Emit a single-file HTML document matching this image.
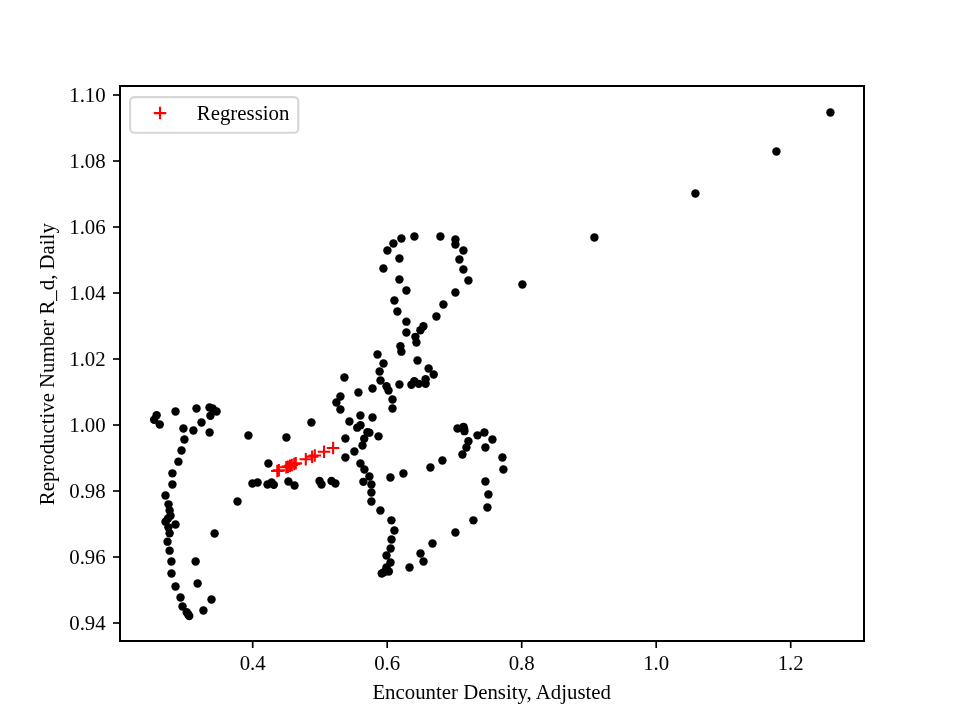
<!DOCTYPE html>
<html lang="en"><head><meta charset="utf-8"><title>Regression plot</title>
<style>
html,body{margin:0;padding:0;background:#fff;}
body{width:960px;height:720px;overflow:hidden;}
svg{display:block;}
text{font-family:"Liberation Serif","Times New Roman",Times,serif;font-size:20.83px;fill:#000;}
</style></head><body>
<svg width="960" height="720" viewBox="0 0 960 720">
<rect width="960" height="720" fill="#fff"/>

<g fill="#000">
<circle cx="156.62" cy="415.15" r="4.22"/>
<circle cx="154.12" cy="419.75" r="4.22"/>
<circle cx="159.72" cy="424.55" r="4.22"/>
<circle cx="175.52" cy="411.45" r="4.22"/>
<circle cx="196.52" cy="408.45" r="4.22"/>
<circle cx="209.52" cy="407.45" r="4.22"/>
<circle cx="212.62" cy="408.45" r="4.22"/>
<circle cx="216.62" cy="411.55" r="4.22"/>
<circle cx="210.42" cy="415.85" r="4.22"/>
<circle cx="201.52" cy="422.45" r="4.22"/>
<circle cx="183.42" cy="428.55" r="4.22"/>
<circle cx="193.42" cy="430.55" r="4.22"/>
<circle cx="209.62" cy="432.45" r="4.22"/>
<circle cx="184.42" cy="439.45" r="4.22"/>
<circle cx="181.52" cy="450.55" r="4.22"/>
<circle cx="178.42" cy="461.65" r="4.22"/>
<circle cx="172.42" cy="473.35" r="4.22"/>
<circle cx="172.42" cy="484.55" r="4.22"/>
<circle cx="165.52" cy="495.45" r="4.22"/>
<circle cx="168.52" cy="504.35" r="4.22"/>
<circle cx="169.62" cy="510.45" r="4.22"/>
<circle cx="170.52" cy="515.65" r="4.22"/>
<circle cx="168.02" cy="518.45" r="4.22"/>
<circle cx="165.52" cy="521.65" r="4.22"/>
<circle cx="175.52" cy="524.45" r="4.22"/>
<circle cx="168.42" cy="527.35" r="4.22"/>
<circle cx="169.62" cy="533.35" r="4.22"/>
<circle cx="167.52" cy="541.65" r="4.22"/>
<circle cx="169.62" cy="550.65" r="4.22"/>
<circle cx="171.42" cy="561.45" r="4.22"/>
<circle cx="171.52" cy="573.55" r="4.22"/>
<circle cx="214.62" cy="533.45" r="4.22"/>
<circle cx="195.62" cy="561.45" r="4.22"/>
<circle cx="197.62" cy="583.55" r="4.22"/>
<circle cx="175.52" cy="586.45" r="4.22"/>
<circle cx="180.52" cy="597.55" r="4.22"/>
<circle cx="211.52" cy="599.45" r="4.22"/>
<circle cx="182.52" cy="606.45" r="4.22"/>
<circle cx="203.42" cy="610.55" r="4.22"/>
<circle cx="186.72" cy="612.25" r="4.22"/>
<circle cx="188.02" cy="614.15" r="4.22"/>
<circle cx="189.22" cy="615.95" r="4.22"/>
<circle cx="248.42" cy="435.45" r="4.22"/>
<circle cx="286.42" cy="437.55" r="4.22"/>
<circle cx="268.42" cy="463.45" r="4.22"/>
<circle cx="237.52" cy="501.45" r="4.22"/>
<circle cx="252.42" cy="483.45" r="4.22"/>
<circle cx="257.62" cy="482.45" r="4.22"/>
<circle cx="267.52" cy="484.45" r="4.22"/>
<circle cx="271.62" cy="482.45" r="4.22"/>
<circle cx="273.82" cy="484.85" r="4.22"/>
<circle cx="288.42" cy="481.45" r="4.22"/>
<circle cx="294.52" cy="485.55" r="4.22"/>
<circle cx="311.42" cy="422.45" r="4.22"/>
<circle cx="319.52" cy="480.95" r="4.22"/>
<circle cx="321.52" cy="484.55" r="4.22"/>
<circle cx="331.52" cy="481.05" r="4.22"/>
<circle cx="335.42" cy="483.45" r="4.22"/>
<circle cx="414.42" cy="236.45" r="4.22"/>
<circle cx="401.42" cy="238.45" r="4.22"/>
<circle cx="393.42" cy="243.45" r="4.22"/>
<circle cx="387.42" cy="250.45" r="4.22"/>
<circle cx="399.42" cy="258.45" r="4.22"/>
<circle cx="383.42" cy="268.45" r="4.22"/>
<circle cx="399.42" cy="279.45" r="4.22"/>
<circle cx="406.42" cy="290.45" r="4.22"/>
<circle cx="394.42" cy="300.45" r="4.22"/>
<circle cx="397.42" cy="311.45" r="4.22"/>
<circle cx="406.42" cy="321.65" r="4.22"/>
<circle cx="406.42" cy="332.45" r="4.22"/>
<circle cx="423.42" cy="326.25" r="4.22"/>
<circle cx="420.42" cy="330.25" r="4.22"/>
<circle cx="415.42" cy="336.85" r="4.22"/>
<circle cx="436.42" cy="316.45" r="4.22"/>
<circle cx="443.42" cy="304.45" r="4.22"/>
<circle cx="455.42" cy="292.45" r="4.22"/>
<circle cx="468.42" cy="280.45" r="4.22"/>
<circle cx="463.42" cy="269.45" r="4.22"/>
<circle cx="459.42" cy="259.45" r="4.22"/>
<circle cx="463.42" cy="250.45" r="4.22"/>
<circle cx="455.42" cy="239.45" r="4.22"/>
<circle cx="455.42" cy="244.45" r="4.22"/>
<circle cx="440.42" cy="236.45" r="4.22"/>
<circle cx="416.42" cy="342.45" r="4.22"/>
<circle cx="400.42" cy="346.15" r="4.22"/>
<circle cx="401.42" cy="351.65" r="4.22"/>
<circle cx="377.52" cy="354.45" r="4.22"/>
<circle cx="417.52" cy="360.45" r="4.22"/>
<circle cx="383.52" cy="363.45" r="4.22"/>
<circle cx="428.62" cy="368.45" r="4.22"/>
<circle cx="433.72" cy="374.55" r="4.22"/>
<circle cx="379.62" cy="371.45" r="4.22"/>
<circle cx="344.42" cy="377.45" r="4.22"/>
<circle cx="380.52" cy="380.55" r="4.22"/>
<circle cx="425.62" cy="379.25" r="4.22"/>
<circle cx="425.62" cy="383.85" r="4.22"/>
<circle cx="414.32" cy="381.15" r="4.22"/>
<circle cx="418.72" cy="383.85" r="4.22"/>
<circle cx="411.42" cy="384.75" r="4.22"/>
<circle cx="399.42" cy="384.45" r="4.22"/>
<circle cx="386.52" cy="386.15" r="4.22"/>
<circle cx="388.52" cy="390.55" r="4.22"/>
<circle cx="372.52" cy="388.45" r="4.22"/>
<circle cx="358.42" cy="392.45" r="4.22"/>
<circle cx="392.52" cy="399.45" r="4.22"/>
<circle cx="392.52" cy="408.55" r="4.22"/>
<circle cx="340.42" cy="396.45" r="4.22"/>
<circle cx="336.42" cy="402.45" r="4.22"/>
<circle cx="340.42" cy="409.45" r="4.22"/>
<circle cx="360.42" cy="415.45" r="4.22"/>
<circle cx="372.52" cy="417.45" r="4.22"/>
<circle cx="349.42" cy="421.45" r="4.22"/>
<circle cx="360.52" cy="425.15" r="4.22"/>
<circle cx="357.22" cy="427.65" r="4.22"/>
<circle cx="367.42" cy="432.25" r="4.22"/>
<circle cx="369.42" cy="432.65" r="4.22"/>
<circle cx="378.52" cy="436.35" r="4.22"/>
<circle cx="345.42" cy="438.45" r="4.22"/>
<circle cx="364.22" cy="438.75" r="4.22"/>
<circle cx="362.52" cy="445.55" r="4.22"/>
<circle cx="354.42" cy="451.45" r="4.22"/>
<circle cx="345.42" cy="457.55" r="4.22"/>
<circle cx="360.42" cy="463.45" r="4.22"/>
<circle cx="364.42" cy="469.45" r="4.22"/>
<circle cx="369.42" cy="476.45" r="4.22"/>
<circle cx="363.42" cy="481.85" r="4.22"/>
<circle cx="371.42" cy="484.45" r="4.22"/>
<circle cx="371.42" cy="492.45" r="4.22"/>
<circle cx="371.42" cy="501.45" r="4.22"/>
<circle cx="380.42" cy="510.45" r="4.22"/>
<circle cx="391.42" cy="520.35" r="4.22"/>
<circle cx="394.42" cy="530.45" r="4.22"/>
<circle cx="391.52" cy="539.55" r="4.22"/>
<circle cx="390.62" cy="548.45" r="4.22"/>
<circle cx="386.52" cy="555.55" r="4.22"/>
<circle cx="390.52" cy="562.45" r="4.22"/>
<circle cx="386.42" cy="567.55" r="4.22"/>
<circle cx="388.82" cy="571.55" r="4.22"/>
<circle cx="383.82" cy="572.15" r="4.22"/>
<circle cx="381.72" cy="573.45" r="4.22"/>
<circle cx="409.52" cy="567.55" r="4.22"/>
<circle cx="423.52" cy="561.55" r="4.22"/>
<circle cx="420.52" cy="553.45" r="4.22"/>
<circle cx="432.52" cy="543.55" r="4.22"/>
<circle cx="455.42" cy="532.45" r="4.22"/>
<circle cx="473.42" cy="520.35" r="4.22"/>
<circle cx="487.42" cy="507.45" r="4.22"/>
<circle cx="488.42" cy="494.45" r="4.22"/>
<circle cx="390.42" cy="477.45" r="4.22"/>
<circle cx="403.42" cy="473.45" r="4.22"/>
<circle cx="430.42" cy="467.45" r="4.22"/>
<circle cx="442.42" cy="460.45" r="4.22"/>
<circle cx="462.42" cy="454.45" r="4.22"/>
<circle cx="466.42" cy="447.45" r="4.22"/>
<circle cx="468.42" cy="441.15" r="4.22"/>
<circle cx="457.52" cy="428.45" r="4.22"/>
<circle cx="463.52" cy="426.85" r="4.22"/>
<circle cx="464.12" cy="428.95" r="4.22"/>
<circle cx="464.42" cy="431.15" r="4.22"/>
<circle cx="477.52" cy="435.35" r="4.22"/>
<circle cx="484.42" cy="432.45" r="4.22"/>
<circle cx="492.42" cy="439.45" r="4.22"/>
<circle cx="485.42" cy="447.45" r="4.22"/>
<circle cx="502.42" cy="457.45" r="4.22"/>
<circle cx="503.42" cy="469.45" r="4.22"/>
<circle cx="485.42" cy="481.45" r="4.22"/>
<circle cx="522.42" cy="284.45" r="4.22"/>
<circle cx="594.42" cy="237.45" r="4.22"/>
<circle cx="695.42" cy="193.45" r="4.22"/>
<circle cx="776.42" cy="151.45" r="4.22"/>
<circle cx="830.42" cy="112.45" r="4.22"/>
</g>
<g stroke="#f00" stroke-width="2.08" fill="none">
<path d="M326.85 448.00H339.35M333.10 441.75V454.25"/>
<path d="M317.75 451.75H330.25M324.00 445.50V458.00"/>
<path d="M308.55 455.54H321.05M314.80 449.29V461.79"/>
<path d="M305.85 456.66H318.35M312.10 450.41V462.91"/>
<path d="M299.55 459.25H312.05M305.80 453.00V465.50"/>
<path d="M289.55 463.37H302.05M295.80 457.12V469.62"/>
<path d="M287.95 464.03H300.45M294.20 457.78V470.28"/>
<path d="M285.55 465.02H298.05M291.80 458.77V471.27"/>
<path d="M283.75 465.77H296.25M290.00 459.52V472.02"/>
<path d="M281.65 466.63H294.15M287.90 460.38V472.88"/>
<path d="M280.05 467.29H292.55M286.30 461.04V473.54"/>
<path d="M272.65 470.34H285.15M278.90 464.09V476.59"/>
<path d="M271.05 471.00H283.55M277.30 464.75V477.25"/>
</g>
<g stroke="#000" stroke-width="1.67" fill="none" shape-rendering="crispEdges">
<rect x="120" y="86" width="744" height="555" stroke-width="2"/>
<path d="M252.70 641V648" stroke-width="1.67" shape-rendering="auto"/>
<path d="M387.20 641V648" stroke-width="1.67" shape-rendering="auto"/>
<path d="M521.70 641V648" stroke-width="1.67" shape-rendering="auto"/>
<path d="M656.20 641V648" stroke-width="1.67" shape-rendering="auto"/>
<path d="M790.70 641V648" stroke-width="1.67" shape-rendering="auto"/>
<path d="M113 95H120" stroke-width="1.67" shape-rendering="auto"/>
<path d="M113 161H120" stroke-width="1.67" shape-rendering="auto"/>
<path d="M113 227H120" stroke-width="1.67" shape-rendering="auto"/>
<path d="M113 293H120" stroke-width="1.67" shape-rendering="auto"/>
<path d="M113 359H120" stroke-width="1.67" shape-rendering="auto"/>
<path d="M113 425H120" stroke-width="1.67" shape-rendering="auto"/>
<path d="M113 491H120" stroke-width="1.67" shape-rendering="auto"/>
<path d="M113 557H120" stroke-width="1.67" shape-rendering="auto"/>
<path d="M113 623H120" stroke-width="1.67" shape-rendering="auto"/>
</g>
<text x="252.7" y="669.8" text-anchor="middle">0.4</text>
<text x="387.2" y="669.8" text-anchor="middle">0.6</text>
<text x="521.7" y="669.8" text-anchor="middle">0.8</text>
<text x="656.2" y="669.8" text-anchor="middle">1.0</text>
<text x="790.7" y="669.8" text-anchor="middle">1.2</text>
<text x="105.7" y="102.0" text-anchor="end">1.10</text>
<text x="105.7" y="168.0" text-anchor="end">1.08</text>
<text x="105.7" y="234.0" text-anchor="end">1.06</text>
<text x="105.7" y="300.0" text-anchor="end">1.04</text>
<text x="105.7" y="366.0" text-anchor="end">1.02</text>
<text x="105.7" y="432.0" text-anchor="end">1.00</text>
<text x="105.7" y="498.0" text-anchor="end">0.98</text>
<text x="105.7" y="564.0" text-anchor="end">0.96</text>
<text x="105.7" y="630.0" text-anchor="end">0.94</text>
<text x="372.4" y="698.5" textLength="238.6" lengthAdjust="spacing">Encounter Density, Adjusted</text>
<text transform="translate(54 505.2) rotate(-90)" textLength="282" lengthAdjust="spacing">Reproductive Number R_d, Daily</text>
<rect x="130.1" y="97.1" width="168.2" height="35.6" rx="4.2" ry="4.2" fill="#fff" fill-opacity="0.8" stroke="#ccc" stroke-opacity="0.8" stroke-width="2.08"/>
<path d="M153.75 113.10H166.25M160.00 106.85V119.35" stroke="#f00" stroke-width="2.08" fill="none"/>
<text x="196.8" y="119.8">Regression</text>
</svg></body></html>
